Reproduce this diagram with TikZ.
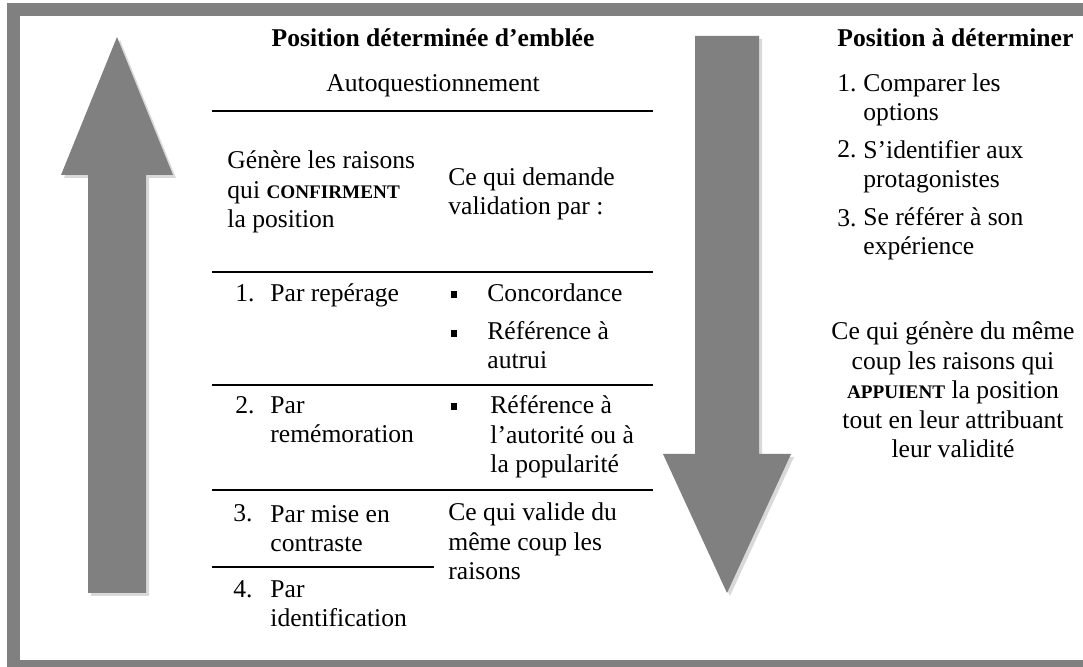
\documentclass[tikz,border=0pt]{standalone}
\usepackage{fontspec}
\setmainfont{Liberation Serif}
\usetikzlibrary{shadows}
\tikzstyle{bigarrow}=[fill=black!50, drop shadow={shadow xshift=1.5pt, shadow yshift=-1.5pt, opacity=0.3}]
\tikzstyle{txt}=[inner sep=0pt, anchor=base west, align=left]
\tikzstyle{heading}=[inner sep=0pt, anchor=base, font=\fontsize{12.8}{14.75}\selectfont\bfseries]
\tikzstyle{rule}=[line width=1pt]
\tikzstyle{square}=[fill=black, inner sep=0pt, minimum width=3pt, minimum height=3.4pt]
\newcommand{\majbold}[1]{{\fontsize{9.6}{14.75}\selectfont\bfseries #1}}

\begin{document}
\begin{tikzpicture}[x=0.5pt, y=-0.5pt, font=\fontsize{12.8}{14.75}\selectfont]
  \useasboundingbox (0,0) rectangle (1083,667);
  \clip (0,0) rectangle (1083,667);
  % frame
  \draw[black!50, line width=6.5pt] (13.5,10) rectangle (1100,666.5);
  % the two big arrows
  \path[bigarrow] (88,593) -- (88,175) -- (61,175) -- (117,37) -- (173,175) -- (146,175) -- (146,593) -- cycle;
  \path[bigarrow] (695,36) -- (759,36) -- (759,454) -- (791,454) -- (727,593) -- (663,454) -- (695,454) -- cycle;

  % left part (multi-line nodes sit on their last line)
  \node[heading] (t1) at (433,47) {Position déterminée d’emblée};
  \node[inner sep=0pt, anchor=base] (auto) at (433,92) {Autoquestionnement};
  \draw[rule] (212,111) -- (653,111);
  \node[txt] (gen) at (227,228) {Génère les raisons\\qui \majbold{CONFIRMENT}\\la position};
  \node[txt] (dem) at (448,215) {Ce qui demande\\validation par :};
  \draw[rule] (212,272) -- (653,272);
  \node[txt] (n1) at (235,302) {1.};
  \node[txt] (p1) at (270,302) {Par repérage};
  \node[square] (b1) at (454,294.5) {};
  \node[txt] (c1) at (487,302) {Concordance};
  \node[square] (b2) at (454,333.5) {};
  \node[txt] (c2) at (487,369) {Référence à\\autrui};
  \draw[rule] (212,385) -- (653,385);
  \node[txt] (n2) at (235,414) {2.};
  \node[txt] (p2) at (270,443) {Par\\remémoration};
  \node[square] (b3) at (454,406.5) {};
  \node[txt] (c3) at (490,473) {Référence à\\l’autorité ou à\\la popularité};
  \draw[rule] (212,490) -- (653,490);
  \node[txt] (n3) at (233,522) {3.};
  \node[txt] (p3) at (270,552) {Par mise en\\contraste};
  \node[txt] (v1) at (448,580) {Ce qui valide du\\même coup les\\raisons};
  \draw[rule] (212,567) -- (434,567);
  \node[txt] (n4) at (233,598) {4.};
  \node[txt] (p4) at (270,627) {Par\\identification};

  % right part
  \node[heading, anchor=base west] (t2) at (837,47) {Position à déterminer};
  \node[txt] (m1) at (837,92) {1.};
  \node[txt] (o1) at (863,121) {Comparer les\\options};
  \node[txt] (m2) at (837,158) {2.};
  \node[txt] (o2) at (863,188) {S’identifier aux\\protagonistes};
  \node[txt] (m3) at (837,227) {3.};
  \node[txt] (o3) at (863,255) {Se référer à son\\expérience};
  \node[inner sep=0pt, anchor=base, align=center] (gen2) at (953,458) {Ce qui génère du même\\coup les raisons qui\\\majbold{APPUIENT} la position\\tout en leur attribuant\\leur validité};
\end{tikzpicture}
\end{document}
